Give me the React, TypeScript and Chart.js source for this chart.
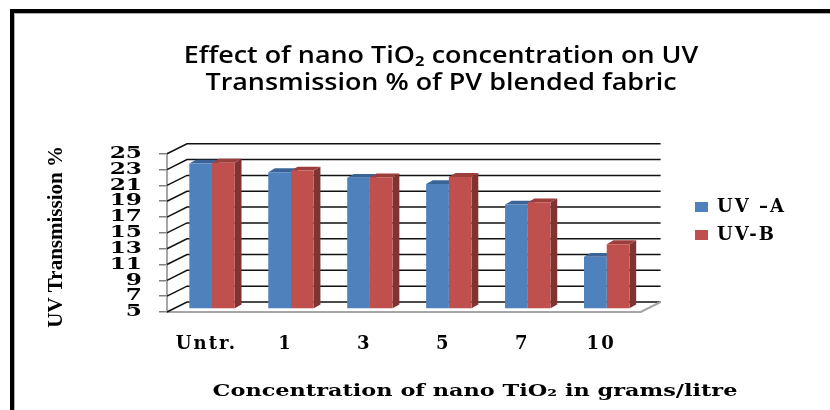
import React, { useEffect, useRef } from "react";
import { Chart, registerables } from "chart.js";

Chart.register(...registerables);

const categories = ["Untr.", "1", "3", "5", "7", "10"];
const uvA = [23.4, 22.3, 21.6, 20.8, 18.2, 11.6];
const uvB = [23.5, 22.5, 21.65, 21.7, 18.5, 13.2];
const titleLines = ["Effect of nano TiO₂ concentration on UV", "Transmission % of PV blended fabric"];
const xTitle = "Concentration of nano TiO₂ in grams/litre";
const yTitle = "UV Transmission %";
const axisMin = 5;
const axisMax = 25;

const BLUE = "#4F81BD";
const RED = "#C0504D";
const BLUE_TOP = "#3A6497";
const RED_TOP = "#9C3F3C";
const BLUE_SIDE = "#385D8A";
const RED_SIDE = "#7F3431";
const SERIF = "'DejaVu Serif', serif";

const WALL_DX = 20;
const WALL_DY = 10;
const BAR_DX = 5.6;
const BAR_DY = 3;
const DEPTH_X = 6.7;
const DEPTH_Y = 3.8;

const TITLE_CX = 441;
const SUB_CX = 475;
const Y_LABEL_RIGHT = 142;

function stretch(box: any, method: string, ctx: any, cx: number, k: number) {
  const draw = box[method].bind(box);
  box[method] = (...args: any[]) => {
    ctx.save();
    ctx.translate(cx, 0);
    ctx.scale(k, 1);
    ctx.translate(-cx, 0);
    draw(...args);
    ctx.restore();
  };
}

function spaced(box: any, method: string, ctx: any, px: string) {
  const draw = box[method].bind(box);
  box[method] = (...args: any[]) => {
    ctx.save();
    ctx.letterSpacing = px;
    draw(...args);
    ctx.restore();
  };
}

function shifted(box: any, method: string, ctx: any, dx: number, dy: number) {
  const draw = box[method].bind(box);
  box[method] = (...args: any[]) => {
    ctx.save();
    ctx.translate(dx, dy);
    draw(...args);
    ctx.restore();
  };
}

const scene = {
  id: "scene",
  afterLayout(chart: any) {
    const { ctx } = chart;
    const legend = chart.legend;
    legend.left = 685;
    legend.right = 828;
    const h = legend.bottom - legend.top;
    legend.top = 221 - h / 2;
    legend.bottom = 221 + h / 2;
    const t = chart.titleBlock;
    t.left = TITLE_CX - 350;
    t.right = TITLE_CX + 350;
    const sub = chart.boxes.find((b: any) => b.options?.text === xTitle);
    sub.left = SUB_CX - 350;
    sub.right = SUB_CX + 350;
    if (!chart.$wrapped) {
      chart.$wrapped = true;
      stretch(t, "draw", ctx, TITLE_CX, 1.17);
      stretch(sub, "draw", ctx, SUB_CX, 1.4);
      spaced(legend, "_draw", ctx, "2px");
      spaced(chart.scales.x, "drawLabels", ctx, "2px");
      stretch(chart.scales.y, "drawLabels", ctx, Y_LABEL_RIGHT, 1.45);
      shifted(chart.scales.y, "drawTitle", ctx, -3, 4);
    }
  },
  beforeDraw(chart: any) {
    const { ctx, width, height } = chart;
    ctx.save();
    ctx.fillStyle = "#fff";
    ctx.fillRect(0, 0, width, height);
    ctx.fillStyle = "#b0b0b0";
    ctx.fillRect(14, 13, width - 14, 1);
    ctx.fillRect(14, 13, 1, height - 13);
    ctx.fillStyle = "#000";
    ctx.fillRect(10, 9, width - 10, 4);
    ctx.fillRect(10, 9, 4, height - 9);
    ctx.restore();
  },
  beforeDatasetsDraw(chart: any) {
    const { ctx, scales, chartArea } = chart;
    const y = scales.y;
    const { left, right, bottom } = chartArea;
    ctx.save();
    ctx.lineWidth = 1.5;
    for (const tick of y.ticks) {
      const py = y.getPixelForValue(tick.value);
      ctx.strokeStyle = "#111";
      ctx.beginPath();
      ctx.moveTo(left, py);
      ctx.lineTo(left + WALL_DX, py - WALL_DY);
      ctx.lineTo(right + WALL_DX, py - WALL_DY);
      ctx.stroke();
    }
    ctx.strokeStyle = "#a6a6a6";
    ctx.lineWidth = 2;
    ctx.beginPath();
    ctx.moveTo(right, bottom);
    ctx.lineTo(right + WALL_DX, bottom - WALL_DY);
    ctx.stroke();

    const sets = [
      { i: 0, top: BLUE_TOP, side: BLUE_SIDE },
      { i: 1, top: RED_TOP, side: RED_SIDE },
    ];
    ctx.translate(BAR_DX, -BAR_DY);
    for (const s of sets) {
      for (const bar of chart.getDatasetMeta(s.i).data as any[]) {
        const l = bar.x - bar.width / 2;
        const r = bar.x + bar.width / 2;
        ctx.fillStyle = s.side;
        ctx.beginPath();
        ctx.moveTo(r, bar.y);
        ctx.lineTo(r + DEPTH_X, bar.y - DEPTH_Y);
        ctx.lineTo(r + DEPTH_X, bar.base - DEPTH_Y);
        ctx.lineTo(r, bar.base);
        ctx.closePath();
        ctx.fill();
        ctx.fillStyle = s.top;
        ctx.beginPath();
        ctx.moveTo(l, bar.y);
        ctx.lineTo(l + DEPTH_X, bar.y - DEPTH_Y);
        ctx.lineTo(r + DEPTH_X, bar.y - DEPTH_Y);
        ctx.lineTo(r, bar.y);
        ctx.closePath();
        ctx.fill();
      }
    }
    ctx.restore();
    ctx.save();
    ctx.translate(BAR_DX, -BAR_DY);
  },
  afterDatasetsDraw(chart: any) {
    chart.ctx.restore();
  },
};

export default function App() {
  const ref = useRef<HTMLCanvasElement>(null);
  useEffect(() => {
    document.body.style.margin = "0";
    const chart = new Chart(ref.current as HTMLCanvasElement, {
      type: "bar",
      data: {
        labels: categories,
        datasets: [
          { label: "UV –A", data: uvA, backgroundColor: BLUE, clip: false, base: axisMin } as any,
          { label: "UV-B", data: uvB, backgroundColor: RED, clip: false, base: axisMin } as any,
        ],
      },
      options: {
        responsive: false,
        animation: false,
        layout: { padding: { left: 47, right: 88.5, top: 0, bottom: 8.4 } },
        datasets: { bar: { categoryPercentage: 0.576, barPercentage: 1 } },
        plugins: {
          title: {
            display: true,
            text: titleLines,
            color: "#000",
            font: { family: "'Open Sans', sans-serif", size: 23, weight: "600", lineHeight: 1.18 },
            padding: { top: 43, bottom: 56.5 },
          },
          subtitle: {
            display: true,
            position: "bottom",
            text: xTitle,
            color: "#000",
            font: { family: SERIF, size: 16, weight: "bold" },
            padding: { top: 0, bottom: 0 },
          },
          legend: {
            position: "right",
            labels: {
              color: "#000",
              boxWidth: 13,
              boxHeight: 10,
              padding: 10,
              font: { family: SERIF, size: 18, weight: "bold" },
            },
          },
          tooltip: { enabled: false },
        },
        scales: {
          x: {
            grid: { display: false },
            border: { color: "#a6a6a6", width: 2 },
            ticks: { color: "#000", padding: 14, font: { family: SERIF, size: 18, weight: "bold" } },
            afterFit(s: any) { s.height = 70.4; },
          },
          y: {
            min: axisMin,
            max: axisMax,
            title: {
              display: true,
              text: yTitle,
              color: "#000",
              font: { family: "'Liberation Serif', serif", size: 21, weight: "bold" },
              padding: 0,
            },
            grid: { drawOnChartArea: false, color: "#808080", tickLength: 8, lineWidth: 1.5 },
            border: { color: "#a6a6a6", width: 2 },
            ticks: {
              stepSize: 2,
              autoSkip: false,
              color: "#000",
              padding: 17,
              font: { family: SERIF, size: 16, weight: "bold", lineHeight: 1 },
            },
            afterFit(s: any) { s.width = 120; },
          },
        },
      },
      plugins: [scene],
    } as any);
    return () => chart.destroy();
  }, []);
  return <canvas ref={ref} width={830} height={410} style={{ display: "block" }} />;
}
